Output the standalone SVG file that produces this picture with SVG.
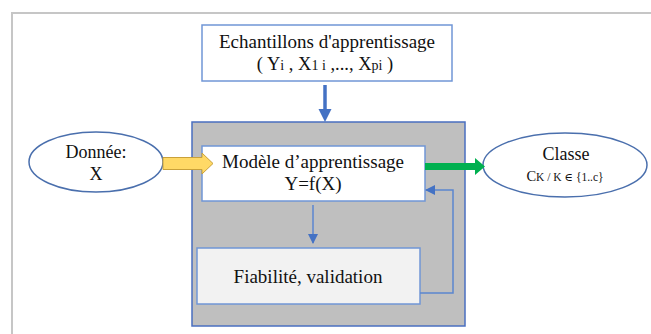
<svg xmlns="http://www.w3.org/2000/svg" width="651" height="334" viewBox="0 0 651 334" font-family="'Liberation Serif', 'DejaVu Serif', serif">
<style>
text{font-family:'Liberation Serif','DejaVu Serif',serif;fill:#111;}
.box{stroke:#7096d6;stroke-width:1.5;}
.ell{fill:#fff;stroke:#4a6fad;stroke-width:1.5;}
.thin{fill:none;stroke:#5b86d0;stroke-width:1.5;}
</style>
<defs>
<marker id="ah" viewBox="0 0 10 10" refX="9" refY="5" markerWidth="10" markerHeight="10" markerUnits="userSpaceOnUse" orient="auto">
<path d="M0,0 L10,5 L0,10 z" fill="#4472c4"/>
</marker>
</defs>
<rect x="0" y="0" width="651" height="334" fill="#fff"/>
<path d="M12,334 V13 H651" fill="none" stroke="#c6c6c6" stroke-width="2"/>
<g id="process">
<rect x="192" y="122" width="273" height="204" fill="#bfbfbf" stroke="#4a6fc0" stroke-width="1.5"/>
</g>
<g id="echantillons">
<rect class="box" x="202" y="25" width="250" height="56" fill="#fff"/>
<text x="327" y="48" font-size="19" text-anchor="middle">Echantillons d'apprentissage</text>
<text x="325" y="70" font-size="18.5" text-anchor="middle">( Y<tspan font-size="14">i</tspan> , X<tspan font-size="14">1 i</tspan> ,..., X<tspan font-size="14">pi</tspan> )</text>
</g>
<g id="modele">
<rect class="box" x="202" y="146" width="223" height="55" fill="#fff"/>
<text x="313" y="168" font-size="19" text-anchor="middle">Modèle d’apprentissage</text>
<text x="313" y="190" font-size="19" text-anchor="middle">Y=f(X)</text>
</g>
<g id="fiabilite">
<rect class="box" x="197" y="248" width="223" height="56" fill="#f2f2f2"/>
<text x="308" y="283" font-size="19" text-anchor="middle">Fiabilité, validation</text>
</g>
<g id="donnee">
<ellipse class="ell" cx="96" cy="162" rx="67" ry="30"/>
<text x="96" y="158" font-size="18" text-anchor="middle">Donnée:</text>
<text x="96" y="180" font-size="18" text-anchor="middle">X</text>
</g>
<g id="classe">
<ellipse class="ell" cx="565" cy="165" rx="82" ry="32"/>
<text x="566" y="160" font-size="18" text-anchor="middle">Classe</text>
<text x="565" y="181" font-size="14.5" text-anchor="middle">C<tspan font-size="11.5">K / K ∈ {1..c}</tspan></text>
</g>
<g id="connectors">
<path d="M325,85 V110" stroke="#4472c4" stroke-width="3.5" fill="none"/>
<path d="M318.5,109 L331.5,109 L325,122 z" fill="#4472c4"/>
<path d="M163,157.5 H202 V153 L213,163.5 L202,174 V169.5 H163 z" fill="#ffd966" stroke="#c9a13a" stroke-width="1"/>
<path d="M425,163 H475 V158 L485,166.5 L475,175 V170 H425 z" fill="#00b050"/>
<path d="M313,205 V243" class="thin" marker-end="url(#ah)"/>
<path d="M420,293 H453 V190 H426" class="thin" marker-end="url(#ah)"/>
</g>
</svg>
